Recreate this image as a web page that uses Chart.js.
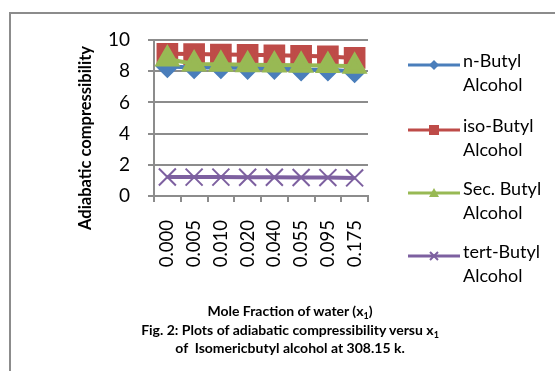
<!DOCTYPE html>
<html>
<head>
<meta charset="utf-8">
<script src="https://cdn.jsdelivr.net/npm/chart.js@4"></script>
<style>
  body { margin: 0; background: #fff; font-family: Lato, sans-serif; }
  #wrap { position: relative; width: 555px; height: 371px; overflow: hidden; }
  #frame { position: absolute; left: 9px; top: 12px; width: 620px; height: 420px; border: 2px solid #8c8c8c; }
  #chart { position: absolute; left: 0; top: 0; }
  #ytitle { position: absolute; left: 85px; top: 138px; transform: translate(-50%, -50%) rotate(-90deg); white-space: nowrap; font-weight: bold; font-size: 16.5px; color: #000; }
  .leg { position: absolute; left: 408px; width: 150px; height: 50px; }
  .leg svg { position: absolute; left: 0; top: 0; }
  .leg span { position: absolute; left: 55px; top: -12px; font-size: 18px; line-height: 24px; color: #000; }
  #caption { position: absolute; left: 40px; width: 500px; top: 302px; text-align: center; font-weight: bold; font-size: 14px; line-height: 18.5px; color: #000; }
  #caption sub { font-size: 9px; vertical-align: -3px; line-height: 0; }
</style>
</head>
<body>
<div id="wrap">
  <div id="frame"></div>
  <canvas id="chart" width="555" height="371"></canvas>
  <div id="ytitle">Adiabatic compressibility</div>
  <div id="legend"></div>
  <div id="caption">
    Mole Fraction of water (x<sub>1</sub>)<br>
    Fig. 2: Plots of adiabatic compressibility versu x<sub>1</sub><br>
    of &nbsp;Isomericbutyl alcohol at 308.15 k.
  </div>
</div>
<script>
const labels = ['0.000', '0.005', '0.010', '0.020', '0.040', '0.055', '0.095', '0.175'];
const nButyl = [8.30, 8.24, 8.24, 8.20, 8.20, 8.10, 8.09, 7.98];
const isoButyl = [9.12, 9.10, 9.07, 9.05, 9.02, 8.99, 8.95, 8.85];
const secButyl = [8.78, 8.46, 8.44, 8.42, 8.40, 8.38, 8.36, 8.32];
const tertButyl = [1.22, 1.21, 1.21, 1.20, 1.20, 1.19, 1.18, 1.16];
const seriesNames = ['n-Butyl Alcohol', 'iso-Butyl Alcohol', 'Sec. Butyl Alcohol', 'tert-Butyl Alcohol'];

const gridColor = '#8c8c8c';

new Chart(document.getElementById('chart'), {
  type: 'line',
  data: {
    labels: labels,
    datasets: [{
      label: seriesNames[0],
      data: nButyl,
      borderColor: '#4a7ebb',
      backgroundColor: '#4a7ebb',
      borderWidth: 4,
      pointStyle: 'rectRot',
      pointRadius: 9,
      order: 4
    }, {
      label: seriesNames[1],
      data: isoButyl,
      borderColor: '#be4b48',
      backgroundColor: '#be4b48',
      borderWidth: 4,
      pointStyle: 'rect',
      pointRadius: 12.5,
      order: 3
    }, {
      label: seriesNames[2],
      data: secButyl,
      borderColor: '#98b954',
      backgroundColor: '#98b954',
      borderWidth: 4,
      pointStyle: 'triangle',
      pointRadius: 11,
      order: 2
    }, {
      label: seriesNames[3],
      data: tertButyl,
      borderColor: '#7d60a0',
      backgroundColor: '#7d60a0',
      borderWidth: 4,
      pointStyle: 'crossRot',
      pointRadius: 12,
      pointBorderWidth: 2,
      order: 1
    }]
  },
  options: {
    responsive: false,
    animation: false,
    layout: { padding: { left: 70, top: 40, right: 187, bottom: 75 } },
    plugins: { legend: { display: false }, tooltip: { enabled: false } },
    scales: {
      x: {
        offset: true,
        afterFit: s => { s.height = 100; },
        grid: { offset: true, drawOnChartArea: false, tickLength: 6, color: gridColor, lineWidth: 2 },
        border: { color: gridColor, width: 2 },
        ticks: { minRotation: 90, maxRotation: 90, padding: 18, color: '#000', font: { family: 'Lato', size: 18.5 } }
      },
      y: {
        min: 0,
        max: 10,
        afterFit: s => { s.width = 84; },
        grid: { tickLength: 6, color: gridColor, lineWidth: 2 },
        border: { color: gridColor, width: 2 },
        ticks: { stepSize: 2, padding: 18, color: '#000', font: { family: 'Lato', size: 19 } }
      }
    }
  }
});

// legend drawn as html, Excel style: line with marker, name wraps onto two lines
const legendTops = [65, 130, 193, 256];
const legendIcons = [
  '<path d="M13 0 L18 5 L13 10 L8 5 Z" fill="#4a7ebb"/>',
  '<rect x="8" y="0" width="10" height="10" fill="#be4b48"/>',
  '<path d="M13 0 L18 9 L8 9 Z" fill="#98b954"/>',
  '<path d="M9 1 L17 9 M17 1 L9 9" stroke="#7d60a0" stroke-width="2"/>'
];
const legendColors = ['#4a7ebb', '#be4b48', '#98b954', '#7d60a0'];
const legendEl = document.getElementById('legend');
seriesNames.forEach((name, i) => {
  const parts = name.split(' ');
  const first = parts.slice(0, parts.length - 1).join(' ');
  const div = document.createElement('div');
  div.className = 'leg';
  div.style.top = (legendTops[i] - 5) + 'px';
  div.innerHTML = '<svg width="52" height="10" viewBox="0 0 52 10"><line x1="0" y1="5" x2="52" y2="5" stroke="' +
    legendColors[i] + '" stroke-width="3"/><g transform="translate(13,0)">' + legendIcons[i] + '</g></svg>' +
    '<span>' + first + '<br>' + parts[parts.length - 1] + '</span>';
  legendEl.appendChild(div);
});
</script>
</body>
</html>
